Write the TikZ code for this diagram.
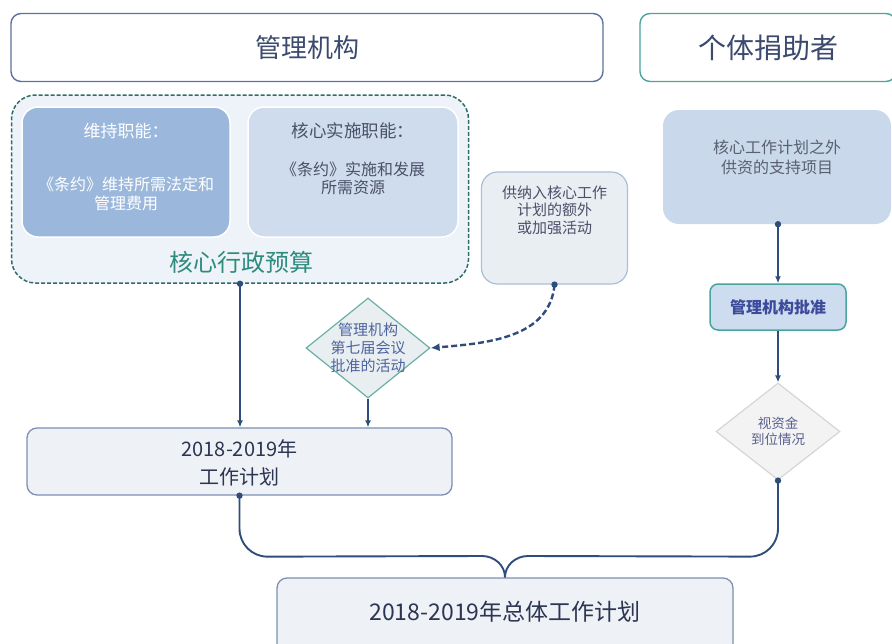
\documentclass[tikz,border=0pt]{standalone}
\usepackage{fontspec}
\setmainfont{Noto Sans CJK SC}
\usetikzlibrary{arrows.meta,shapes.geometric}
\definecolor{hdrA}{HTML}{5D72A0}
\definecolor{hdrB}{HTML}{49A59E}
\definecolor{txtA}{HTML}{3B4A6E}
\definecolor{txtD}{HTML}{2C3552}
\definecolor{coreBorder}{HTML}{2E6E68}
\definecolor{coreFill}{HTML}{EEF3F9}
\definecolor{maintFill}{HTML}{9BB8DC}
\definecolor{implFill}{HTML}{CFDCEE}
\definecolor{implTxt}{HTML}{4A5068}
\definecolor{coreTxt}{HTML}{2E8B7E}
\definecolor{extraFill}{HTML}{E9EEF3}
\definecolor{extraBorder}{HTML}{AABFD8}
\definecolor{diaFill}{HTML}{E9EEF0}
\definecolor{diaBorder}{HTML}{6AB0A5}
\definecolor{diaTxt}{HTML}{4E64A0}
\definecolor{wpFill}{HTML}{EEF1F6}
\definecolor{wpBorder}{HTML}{7D8FB5}
\definecolor{lineC}{HTML}{2F4D7A}
\definecolor{rightFill}{HTML}{C9D9EB}
\definecolor{apprFill}{HTML}{CDDCEE}
\definecolor{apprTxt}{HTML}{3C4A9C}
\definecolor{fundFill}{HTML}{F3F3F3}
\definecolor{fundBorder}{HTML}{D6D6D6}
\definecolor{fundTxt}{HTML}{5A6090}
\definecolor{rightTxt}{HTML}{5A6070}
\begin{document}
\begin{tikzpicture}[x=1pt,y=-1pt,
  rbox/.style={rounded corners=10pt, inner sep=0pt, align=center},
  hdr/.style={rbox, line width=1.4pt, fill=white, text=txtA},
  txt/.style={inner sep=0pt, align=center},
  conn/.style={draw=lineC, line width=1.9pt},
  arr/.style={conn, -{Latex[length=7pt,width=6pt]}},
  dasharr/.style={draw=lineC, line width=2.4pt, dash pattern=on 6pt off 3pt, -{Latex[length=9pt,width=8pt]}},
  dot/.style={fill=lineC},
  dia/.style={diamond, inner sep=0pt, line width=1.2pt}
]
\useasboundingbox (0,0) rectangle (892,643);
\fill[white] (0,0) rectangle (892,643);

% headers
\node[hdr, draw=hdrA, minimum width=592pt, minimum height=68pt, font=\fontsize{26}{30}\selectfont] (gov) at (307,47.5) {管理机构};
\node[hdr, draw=hdrB, minimum width=256pt, minimum height=68pt, font=\fontsize{28}{32}\selectfont] (donor) at (768,47.5) {个体捐助者};

% core administrative budget container
\node[rbox, rounded corners=24pt, draw=coreBorder, fill=coreFill, line width=1.5pt,
      dash pattern=on 4pt off 2pt, minimum width=457pt, minimum height=188pt] (core) at (240,189) {};
\node[rbox, rounded corners=16pt, fill=maintFill, draw=white, line width=1.5pt,
      minimum width=208pt, minimum height=130pt] (maint) at (126,172) {};
\node[rbox, rounded corners=16pt, fill=implFill, draw=white, line width=1.5pt,
      minimum width=210pt, minimum height=130pt] (impl) at (353,172) {};
\node[txt, text=white, font=\fontsize{17}{20}\selectfont] (maintT) at (126,131) {维持职能：};
\node[txt, text=white, font=\fontsize{16}{19}\selectfont] (maintB) at (126,194) {《条约》维持所需法定和\\管理费用};
\node[txt, text=implTxt, font=\fontsize{17.5}{20}\selectfont] (implT) at (353,131) {核心实施职能：};
\node[txt, text=implTxt, font=\fontsize{16}{18}\selectfont] (implB) at (353,178) {《条约》实施和发展\\所需资源};
\node[txt, text=coreTxt, font=\fontsize{24}{28}\selectfont] (coreT) at (241,262) {核心行政预算};

% extra activities box
\node[rbox, rounded corners=16pt, fill=extraFill, draw=extraBorder, line width=1.2pt,
      minimum width=146pt, minimum height=112pt] (extra) at (554.5,228) {};
\node[txt, text=implTxt, font=\fontsize{15}{17.5}\selectfont] (extraT) at (554.5,210) {供纳入核心工作\\计划的额外\\或加强活动};

% diamond approved activities
\node[dia, fill=diaFill, draw=diaBorder, minimum width=124pt, minimum height=100pt] (appr) at (368,348) {};
\node[txt, text=diaTxt, font=\fontsize{15}{18}\selectfont] (apprT) at (appr.center) {管理机构\\第七届会议\\批准的活动};

% work plan
\node[rbox, fill=wpFill, draw=wpBorder, line width=1.3pt, minimum width=425pt, minimum height=67pt] (wp) at (239.5,461.5) {};
\node[txt, text=txtD, font=\fontsize{20}{28}\selectfont] (wpT) at (239.5,463) {2018-2019年\\工作计划};

% right column
\node[rbox, rounded corners=16pt, fill=rightFill, minimum width=228pt, minimum height=114pt] (supp) at (777,167) {};
\node[txt, text=rightTxt, font=\fontsize{16}{20}\selectfont] (suppT) at (777,157) {核心工作计划之外\\供资的支持项目};
\node[rbox, rounded corners=8pt, fill=apprFill, draw=hdrB, line width=1.5pt,
      minimum width=136pt, minimum height=46pt, text=apprTxt, font=\bfseries\fontsize{16}{18}\selectfont] (gapp) at (778,307) {管理机构批准};
\node[dia, fill=fundFill, draw=fundBorder, minimum width=124pt, minimum height=97pt] (fund) at (778,431.5) {};
\node[txt, text=fundTxt, font=\fontsize{13.5}{16}\selectfont] (fundT) at (fund.center) {视资金\\到位情况};

% final plan
\node[rbox, fill=wpFill, draw=wpBorder, line width=1.3pt, minimum width=456pt, minimum height=80pt] (final) at (505,618) {};
\node[txt, text=txtD, font=\fontsize{23}{27}\selectfont] (finalT) at (505,612) {2018-2019年总体工作计划};

% connectors
\draw[arr] (core.south) -- (wp.north -| core.south);
\draw[arr] (appr.south) -- (wp.north -| appr.south);
\draw[dasharr] (extra.south) to[out=-95,in=5] (appr.east);
\draw[arr] (supp.south -| gapp.north) -- (gapp.north);
\draw[arr] (gapp.south) -- (fund.north);
\draw[conn] (wp.south) -- ++(0,33) to[out=-90,in=180] ++(28,28) -- (482,556) to[out=0,in=90] (final.north);
\draw[conn] (fund.south) -- ++(0,48) to[out=-90,in=0] ++(-28,28) -- (528,556) to[out=180,in=90] (final.north);

% dots
\fill[dot] (core.south) circle (3.2pt);
\fill[dot] (extra.south) circle (3.2pt);
\fill[dot] (supp.south -| gapp.north) circle (3.2pt);
\fill[dot] (wp.south) circle (3.2pt);
\fill[dot] (fund.south) circle (3.2pt);
\end{tikzpicture}
\end{document}
